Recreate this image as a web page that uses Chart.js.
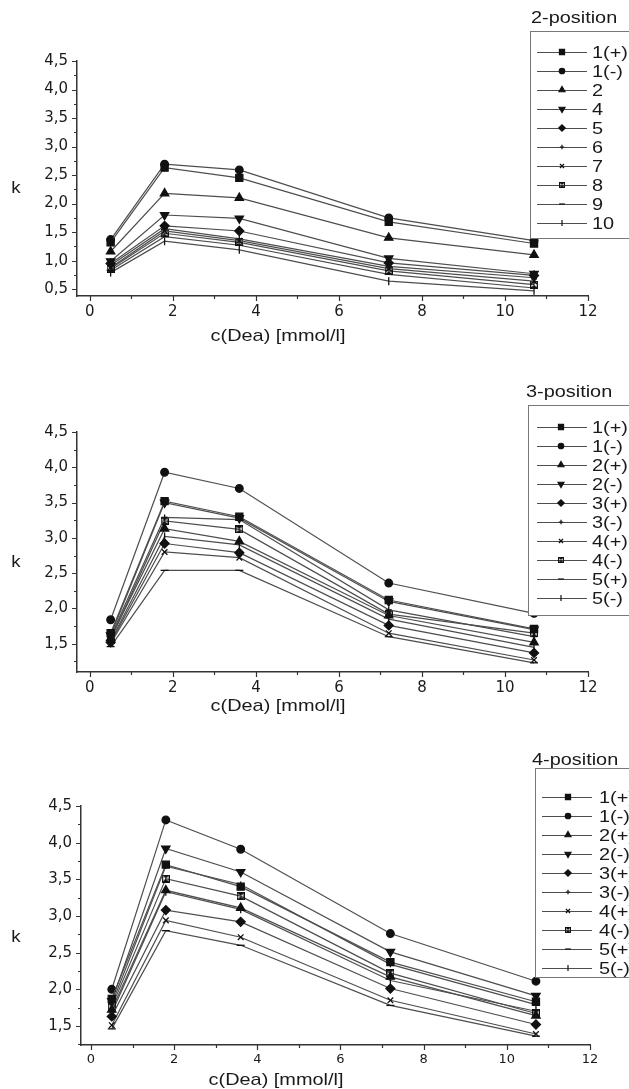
<!DOCTYPE html>
<html>
<head>
<meta charset="utf-8">
<script src="https://cdn.jsdelivr.net/npm/chart.js@4.4.1/dist/chart.umd.min.js"></script>
<style>
html, body { margin: 0; padding: 0; background: #fff; }
#wrap { position: relative; width: 629px; height: 1089px; overflow: hidden; }
#wrap canvas { position: absolute; left: 0; }
</style>
</head>
<body>
<div id="wrap">
	<canvas id="p2" width="629" height="350" style="top:0"></canvas>
	<canvas id="p3" width="629" height="360" style="top:360px"></canvas>
	<canvas id="p4" width="629" height="369" style="top:720px"></canvas>
</div>
<script>
// x values: c(Dea) [mmol/l]
var conc = [0.5, 1.8, 3.6, 7.2, 10.7];

// series names for each panel
var names2 = ['1(+)', '1(-)', '2', '4', '5', '6', '7', '8', '9', '10'];
var names34 = ['1(+)', '1(-)', '2(+)', '2(-)', '3(+)', '3(-)', '4(+)', '4(-)', '5(+)', '5(-)'];

// k values, one row per series (same order as the names)
var k2 = [
	[1.32, 2.63, 2.45, 1.68, 1.30],
	[1.37, 2.69, 2.59, 1.75, 1.35],
	[1.16, 2.18, 2.10, 1.40, 1.10],
	[0.99, 1.80, 1.74, 1.04, 0.77],
	[0.95, 1.61, 1.52, 0.96, 0.74],
	[0.92, 1.56, 1.38, 0.90, 0.70],
	[0.88, 1.52, 1.35, 0.86, 0.64],
	[0.86, 1.48, 1.32, 0.82, 0.58],
	[0.83, 1.42, 1.27, 0.76, 0.52],
	[0.79, 1.34, 1.19, 0.64, 0.47]
];
var k3 = [
	[1.65, 3.52, 3.30, 2.12, 1.71],
	[1.84, 3.93, 3.70, 2.36, 1.93],
	[1.58, 3.13, 2.95, 1.90, 1.52],
	[1.62, 3.50, 3.28, 2.10, 1.70],
	[1.52, 2.92, 2.79, 1.76, 1.37],
	[1.60, 3.29, 3.26, 1.98, 1.60],
	[1.50, 2.80, 2.72, 1.65, 1.27],
	[1.56, 3.24, 3.12, 1.92, 1.65],
	[1.46, 2.54, 2.54, 1.60, 1.23],
	[1.54, 3.02, 2.90, 1.85, 1.45]
];
var k4 = [
	[1.87, 3.70, 3.40, 2.37, 1.83],
	[2.00, 4.31, 3.91, 2.76, 2.11],
	[1.72, 3.35, 3.11, 2.17, 1.64],
	[1.84, 3.92, 3.60, 2.51, 1.91],
	[1.63, 3.08, 2.92, 2.01, 1.52],
	[1.80, 3.68, 3.43, 2.34, 1.79],
	[1.51, 2.94, 2.71, 1.85, 1.39],
	[1.76, 3.51, 3.27, 2.22, 1.67],
	[1.46, 2.80, 2.60, 1.78, 1.36],
	[1.68, 3.33, 3.09, 2.12, 1.70]
];

var INK = '#111', LINE = '#4d4d4d';

// boxed hourglass marker (series 8 / 4(-))
function bowtie( s ){
	var c = document.createElement( 'canvas' ), g;
	c.width = c.height = s;
	g = c.getContext( '2d' );
	g.fillStyle = INK;
	g.beginPath();
	g.moveTo( 0, 0 ); g.lineTo( s, 0 ); g.lineTo( s/2, s/2 ); g.closePath();
	g.moveTo( 0, s ); g.lineTo( s, s ); g.lineTo( s/2, s/2 ); g.closePath();
	g.fill();
	g.strokeStyle = INK; g.lineWidth = 1.3;
	g.strokeRect( 0.65, 0.65, s-1.3, s-1.3 );
	return c;
}

// marker look, same order in every panel
var marks = [
	{ style: 'rect', rot: 0, r: 5 },
	{ style: 'circle', rot: 0, r: 3.8 },
	{ style: 'triangle', rot: 0, r: 4.8 },
	{ style: 'triangle', rot: 180, r: 4.8 },
	{ style: 'rectRot', rot: 0, r: 4.5 },
	{ style: 'cross', rot: 0, r: 3 },
	{ style: 'crossRot', rot: 0, r: 4 },
	{ style: bowtie( 8 ), rot: 0, r: 4 },
	{ style: 'line', rot: 0, r: 4 },
	{ style: 'line', rot: 90, r: 4 }
];

function fmt( v ){ return v.toFixed( 1 ).replace( '.', ',' ); }

function stretched( ctx, str, x, y, sx ){
	ctx.save();
	ctx.translate( x, y );
	ctx.scale( sx, 1 );
	ctx.fillText( str, 0, 0 );
	ctx.restore();
}

function drawMark( ctx, m, x, y, k ){
	if( typeof m.style != 'string' ){
		var s = m.style.width * k;
		ctx.drawImage( m.style, x - s/2, y - s/2, s, s );
		return;
	}
	Chart.helpers.drawPoint( ctx, { pointStyle: m.style, rotation: m.rot, radius: m.r * k, borderWidth: 1.2 }, x, y );
}

// ticks, axis titles and the boxed legend
var sketch = {
	id: 'sketch',
	afterDraw: function( chart, args, o ){
		var ctx = chart.ctx, a = chart.chartArea, xs = chart.scales.x, ys = chart.scales.y, v, p, len;
		ctx.save();
		ctx.strokeStyle = '#333';
		ctx.lineWidth = 1.2;
		ctx.beginPath();
		for( v = Math.ceil( ys.min / 0.25 ) * 0.25; v <= ys.max + 1e-9; v += 0.25 ){
			p = Math.round( ys.getPixelForValue( v ) ) + 0.5;
			len = Math.abs( v*2 - Math.round( v*2 ) ) < 1e-6 ? 5 : 3;
			ctx.moveTo( a.left - len, p ); ctx.lineTo( a.left, p );
		}
		for( v = 0; v <= 12; v++ ){
			p = Math.round( xs.getPixelForValue( v ) ) + 0.5;
			len = v % 2 ? 3 : 5;
			ctx.moveTo( p, a.bottom ); ctx.lineTo( p, a.bottom + len );
		}
		ctx.stroke();

		ctx.fillStyle = '#1a1a1a';
		ctx.textBaseline = 'middle';
		ctx.textAlign = 'center';
		ctx.font = '17px "Liberation Sans", Arial, sans-serif';
		stretched( ctx, 'k', o.kPos[0], o.kPos[1], 1.1 );
		stretched( ctx, 'c(Dea) [mmol/l]', o.xTitle[0], o.xTitle[1], 1.17 );

		// legend
		var b = o.box;
		ctx.fillStyle = '#fff';
		ctx.fillRect( b[0], b[1], 700, b[2] - b[1] );
		ctx.strokeStyle = '#777';
		ctx.lineWidth = 1;
		ctx.strokeRect( b[0] + 0.5, b[1] + 0.5, 700, b[2] - b[1] );

		ctx.textAlign = 'left';
		ctx.fillStyle = '#1a1a1a';
		stretched( ctx, o.title, o.titlePos[0], o.titlePos[1], 1.17 );

		chart.data.datasets.forEach( function( ds, i ){
			var y = o.row0 + i * o.rowStep;
			ctx.strokeStyle = LINE;
			ctx.lineWidth = 1.2;
			ctx.beginPath();
			ctx.moveTo( o.lineX[0], y + 0.5 ); ctx.lineTo( o.lineX[1], y + 0.5 );
			ctx.stroke();
			ctx.fillStyle = INK; ctx.strokeStyle = INK;
			drawMark( ctx, marks[ i ], o.markX, y, 0.72 );
			ctx.fillStyle = '#1a1a1a';
			stretched( ctx, ds.label, o.textX, y + 1, 1.17 );
		} );
		ctx.restore();
	}
};

function build( id, names, rows, cfg ){
	var datasets = rows.map( function( vals, i ){
		var m = marks[ i ];
		return {
			label: names[ i ],
			data: conc.map( function( x, j ){ return { x: x, y: vals[ j ] }; } ),
			borderColor: LINE,
			borderWidth: 1.2,
			pointStyle: m.style,
			pointRotation: m.rot,
			pointRadius: m.r,
			pointBorderWidth: 1.3,
			pointBackgroundColor: INK,
			pointBorderColor: INK,
			tension: 0
		};
	} );

	return new Chart( document.getElementById( id ).getContext( '2d' ), {
		type: 'line',
		data: { datasets: datasets },
		plugins: [ sketch ],
		options: {
			responsive: false,
			animation: false,
			devicePixelRatio: 1,
			events: [],
			layout: { padding: { left: cfg.left - 60, right: 629 - cfg.right, top: cfg.top, bottom: 0 } },
			scales: {
				x: {
					type: 'linear', min: cfg.xmin, max: 12,
					afterFit: function( s ){ s.height = cfg.h - cfg.bottom; },
					grid: { display: false, drawTicks: false },
					border: { display: true, color: '#333', width: 1.5 },
					ticks: { stepSize: 2, includeBounds: false, padding: 7, color: '#1a1a1a',
						font: { family: 'DejaVu Sans', size: cfg.xFont },
						callback: function( v ){ return v; } }
				},
				y: {
					min: cfg.ymin, max: 4.5,
					afterFit: function( s ){ s.width = 60; },
					grid: { display: false, drawTicks: false },
					border: { display: true, color: '#333', width: 1.5 },
					ticks: { stepSize: 0.5, includeBounds: false, padding: 9, color: '#1a1a1a',
						font: { family: 'DejaVu Sans', size: 15 },
						callback: function( v ){ return fmt( v ); } }
				}
			},
			plugins: {
				legend: { display: false },
				tooltip: { enabled: false },
				sketch: cfg.legend
			}
		}
	} );
}

build( 'p2', names2, k2, {
	h: 350, left: 77, right: 588, top: 61, bottom: 296, xmin: -0.31, ymin: 0.38, xFont: 15,
	legend: { title: '2-position', titlePos: [531, 18], box: [530, 31, 238], row0: 52, rowStep: 19,
		lineX: [537, 587], markX: 562, textX: 592, kPos: [16, 188], xTitle: [278, 336] }
} );

build( 'p3', names34, k3, {
	h: 360, left: 77, right: 588, top: 72, bottom: 312, xmin: -0.31, ymin: 1.1, xFont: 15,
	legend: { title: '3-position', titlePos: [526, 32], box: [528, 45, 255], row0: 67, rowStep: 19,
		lineX: [537, 587], markX: 561, textX: 592, kPos: [16, 202], xTitle: [278, 346] }
} );

build( 'p4', names34, k4, {
	h: 369, left: 81, right: 590, top: 86, bottom: 325, xmin: -0.24, ymin: 1.24, xFont: 13,
	legend: { title: '4-position', titlePos: [532, 40], box: [535, 48, 257], row0: 77, rowStep: 19,
		lineX: [542, 592], markX: 568, textX: 599, kPos: [16, 217], xTitle: [276, 360] }
} );
</script>
</body>
</html>
